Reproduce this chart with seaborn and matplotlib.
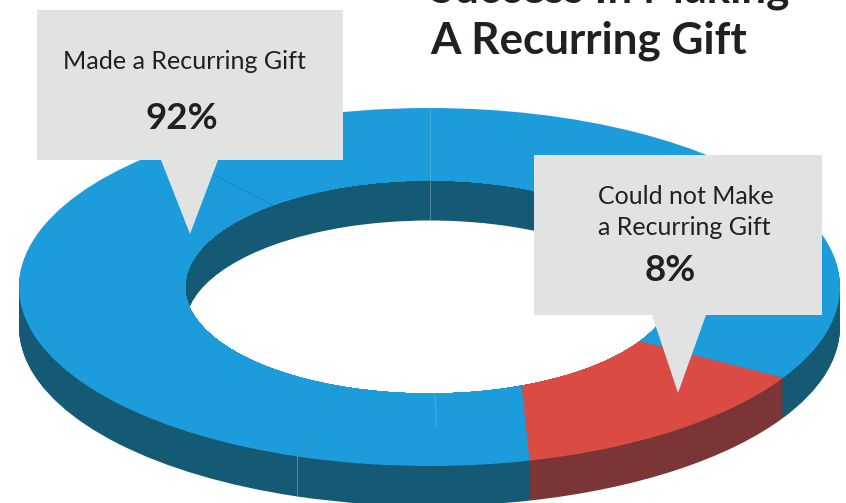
import matplotlib
matplotlib.use('Agg')
import matplotlib.pyplot as plt
import seaborn as sns
import numpy as np
from matplotlib.patches import Polygon

# Textos del grafico
titulo = 'Success In Making\nA Recurring Gift'
etiqueta_si = 'Made a Recurring Gift'
etiqueta_no = 'Could not Make\na Recurring Gift'
porcentajes = ['92%', '8%']

# Tramos del anillo (el original no respeta 92/8 en el area)
# desde las 12 en sentido antihorario; el quinto es el rojo
tramos_borde = [11.1, 33.7, 5.6, 3.6, 12.6, 33.5]
tramos_hueco = [11.1, 33.7, 5.6, 5.9, 10.3, 33.5]

AZUL, AZUL_OSCURO = '#1c9cda', '#145a75'
ROJO, ROJO_OSCURO = '#d94b43', '#7c3537'
GRIS = '#e1e3e3'
TINTA = '#231f20'

ANCHO, ALTO = 846, 503
CX, CY, RX, RY = 429.5, 287, 410.5, 179   # elipse exterior en pixeles
HUECO = 0.595                             # radio interior
GROSOR = 40                               # profundidad en pixeles

sns.set_theme(style='white')
plt.rcParams['font.family'] = ['Lato', 'DejaVu Sans']

fig = plt.figure(figsize=(ANCHO / 100, ALTO / 100), dpi=100)
ax = fig.add_axes([0, 0, 1, 1])
capa = fig.add_axes([0, 0, 1, 1])  # cajas y textos, en pixeles


def anillo(tramos, radio, dy, claro=True):
    colores = [AZUL if claro else AZUL_OSCURO] * len(tramos)
    colores[4] = ROJO if claro else ROJO_OSCURO
    ax.pie(tramos, colors=colores, startangle=90, radius=radio, center=(0, -dy),
           wedgeprops=dict(width=radio - HUECO, linewidth=0))


total = sum(tramos_borde)
angulos = 90 + np.cumsum(tramos_borde) * 360 / total
angulos_hueco = 90 + np.cumsum(tramos_hueco) * 360 / total


def punto(ang, r=1):
    return r * np.cos(np.radians(ang)), r * np.sin(np.radians(ang))


# Pared lateral: anillos oscuros apilados hacia abajo
for k in range(GROSOR, 0, -1):
    anillo(tramos_borde, 1, k / RY, claro=False)

# Cara superior: el borde izquierdo del rojo no es radial, sino una recta,
# asi que va por aros y en cada uno se corre ese borde
P = np.array(punto(angulos[3]))
Q = np.array(punto(angulos_hueco[3], HUECO))
for t in np.linspace(0, 0.985, 30):
    x, y = P + t * (Q - P)
    ang = np.degrees(np.arctan2(y, x)) % 360
    extra = (ang - angulos[3]) * total / 360
    tramos = list(tramos_borde)
    tramos[3] += extra
    tramos[4] -= extra
    anillo(tramos, np.hypot(x, y), 0)

# Juntas finas entre tramos
juntas = [(90, HUECO, 1, '#4aaade'), (angulos[0], HUECO, 0.83, '#1886ba'),
          (angulos[1], HUECO, 1, '#3f93bf'), (angulos[2], HUECO, 0.78, '#58abd6')]
for ang, r0, r1, color in juntas:
    x, y = punto(ang)
    ax.plot([r0 * x, r1 * x], [r0 * y, r1 * y], color=color, lw=0.6)
# Juntas en la pared
pared = GROSOR / RY
ax.plot([0, 0], [HUECO, HUECO - pared], color='#5f93a8', lw=0.6)
x, y = punto(angulos[1])
ax.plot([x, x], [y, y - pared], color='#5f93a8', lw=0.6)

ax.set_aspect('auto')
ax.set_xlim(-CX / RX, (ANCHO - CX) / RX)
ax.set_ylim((CY - ALTO) / RY, CY / RY)
ax.axis('off')

capa.set_xlim(0, ANCHO)
capa.set_ylim(ALTO, 0)
capa.axis('off')
capa.patch.set_alpha(0)

# Globos
capa.add_patch(Polygon([(37, 10), (343, 10), (343, 160), (218, 160), (190, 234),
                        (161, 160), (37, 160)], facecolor=GRIS, edgecolor='none'))
capa.add_patch(Polygon([(534, 155), (822, 155), (822, 315), (706, 315), (678, 393),
                        (652, 315), (534, 315)], facecolor=GRIS, edgecolor='none'))

capa.text(63, 69, etiqueta_si, fontsize=18.1, color=TINTA, va='baseline')
capa.text(182, 129, porcentajes[0], fontsize=26.5, fontweight='bold', color=TINTA,
          ha='center', va='baseline')
capa.text(598, 235, etiqueta_no, fontsize=18, color=TINTA, va='baseline',
          linespacing=1.42)
capa.text(670, 281, porcentajes[1], fontsize=26.5, fontweight='bold', color=TINTA,
          ha='center', va='baseline')
capa.text(430, 53, titulo, fontsize=31.7, fontweight='bold', color=TINTA, va='baseline',
          linespacing=1.3, clip_on=False)

fig.savefig('out.png', dpi=100)
